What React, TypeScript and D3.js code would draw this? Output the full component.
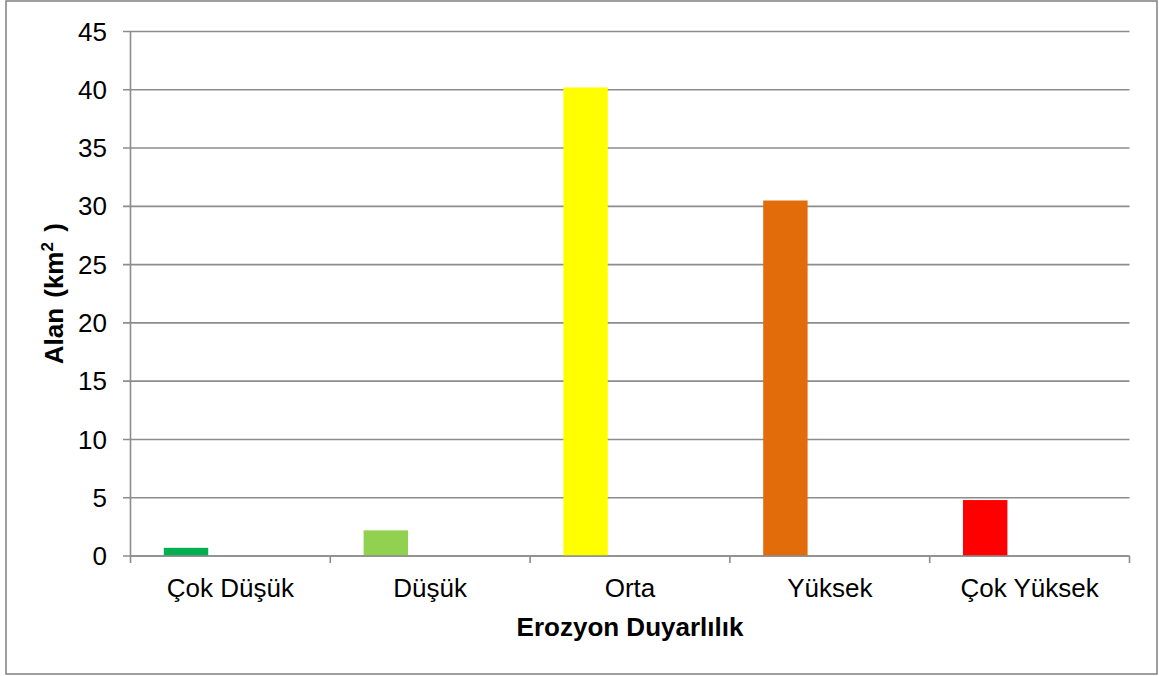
import React from "react";
import * as d3 from "d3";

const categories = ["Çok Düşük", "Düşük", "Orta", "Yüksek", "Çok Yüksek"];
const values = [0.7, 2.2, 40.2, 30.5, 4.8];
const barColors = ["#00B050", "#92D050", "#FFFF00", "#E36C0A", "#FF0000"];
const yTicks = [0, 5, 10, 15, 20, 25, 30, 35, 40, 45];
const seriesSlots = ["s1", "s2", "s3"];
const xTitle = "Erozyon Duyarlılık";
const yTitle = "Alan (km";

const W = 1159;
const H = 676;
const left = 130.5;
const right = 1129.5;
const top = 31.5;
const bottom = 556;
const font = "Arial, 'Liberation Sans', sans-serif";
const gridColor = "#8c8c8c";

export default function App() {
  const x = d3.scaleBand<string>().domain(categories).range([left, right]).padding(0);
  const inner = d3
    .scaleBand<string>()
    .domain(seriesSlots)
    .range([0, x.bandwidth()])
    .paddingInner(0)
    .paddingOuter(0.75);
  const y = d3.scaleLinear().domain([0, 45]).range([bottom, top]);

  const boundaries = categories.map((c) => x(c)!).concat([right]);

  return (
    <svg
      width={W}
      height={H}
      style={{ position: "absolute", left: 0, top: 0, background: "#fff" }}
      fontFamily={font}
    >
      <rect x={0} y={0} width={W} height={H} fill="#fff" />
      <rect x={6} y={1} width={1151} height={673} fill="none" stroke="#7f7f7f" strokeWidth={1.5} />
      {yTicks.map((t) => (
        <g key={t}>
          <line x1={123} x2={right} y1={y(t)} y2={y(t)} stroke={gridColor} strokeWidth={1.6} />
          <text x={107} y={y(t)} dy="0.35em" textAnchor="end" fontSize={26} fill="#000">
            {t}
          </text>
        </g>
      ))}
      {categories.map((c, i) => (
        <rect
          key={c}
          x={x(c)! + inner("s1")!}
          y={y(values[i])}
          width={inner.bandwidth()}
          height={y(0) - y(values[i])}
          fill={barColors[i]}
        />
      ))}
      <line x1={left} x2={left} y1={top} y2={bottom} stroke={gridColor} strokeWidth={1.6} />
      <line x1={left} x2={right} y1={bottom} y2={bottom} stroke={gridColor} strokeWidth={1.6} />
      {boundaries.map((b, i) => (
        <line key={i} x1={b} x2={b} y1={bottom} y2={bottom + 7} stroke={gridColor} strokeWidth={1.6} />
      ))}
      {categories.map((c) => (
        <text
          key={c}
          x={x(c)! + x.bandwidth() / 2}
          y={597}
          textAnchor="middle"
          fontSize={26}
          fill="#000"
        >
          {c}
        </text>
      ))}
      <text
        x={(left + right) / 2}
        y={636}
        textAnchor="middle"
        fontSize={26}
        fontWeight="bold"
        fill="#000"
      >
        {xTitle}
      </text>
      <text
        transform={`translate(63, ${(top + bottom) / 2}) rotate(-90)`}
        textAnchor="middle"
        fontSize={26}
        fontWeight="bold"
        fill="#000"
        wordSpacing={3}
      >
        {yTitle}
        <tspan fontSize={17} dy={-10}>2</tspan>
        <tspan dy={10}>{"\u00a0)"}</tspan>
      </text>
    </svg>
  );
}
